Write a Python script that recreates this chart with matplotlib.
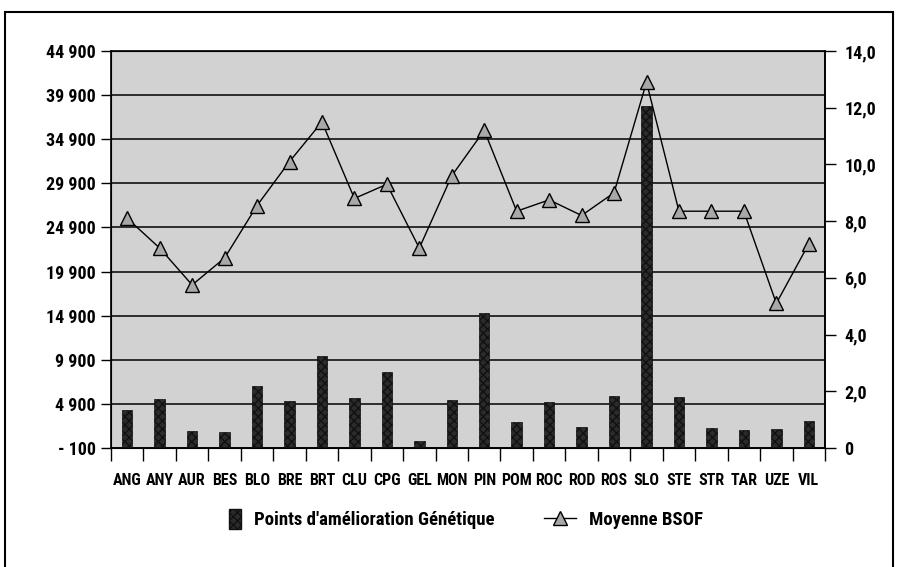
import matplotlib
matplotlib.use("Agg")
import matplotlib.pyplot as plt
from matplotlib.lines import Line2D
from matplotlib.patches import Patch, Rectangle
from matplotlib.legend_handler import HandlerPatch

plt.rcParams['font.family'] = ['Roboto Condensed', 'Liberation Sans Narrow', 'DejaVu Sans']
plt.rcParams['font.weight'] = 'bold'
plt.rcParams['font.stretch'] = 'condensed'

categories = ["ANG", "ANY", "AUR", "BES", "BLO", "BRE", "BRT", "CLU", "CPG", "GEL", "MON",
              "PIN", "POM", "ROC", "ROD", "ROS", "SLO", "STE", "STR", "TAR", "UZE", "VIL"]
points_genetique = [4200, 5450, 1800, 1750, 6900, 5200, 10300, 5600, 8500, 700, 5300,
                    15200, 2900, 5150, 2300, 5750, 38700, 5700, 2200, 1900, 2000, 3000]
moyenne_bsof = [8.1, 7.05, 5.75, 6.7, 8.55, 10.1, 11.5, 8.8, 9.3, 7.05, 9.6,
                11.2, 8.35, 8.75, 8.2, 9.0, 12.9, 8.35, 8.35, 8.35, 5.1, 7.2]
left_ticks = [-100, 4900, 9900, 14900, 19900, 24900, 29900, 34900, 39900, 44900]
left_labels = ["- 100", "4 900", "9 900", "14 900", "19 900", "24 900", "29 900",
               "34 900", "39 900", "44 900"]
right_ticks = [0, 2, 4, 6, 8, 10, 12, 14]
right_labels = ["0", "2,0", "4,0", "6,0", "8,0", "10,0", "12,0", "14,0"]
legend_labels = ["Points d'amélioration Génétique", "Moyenne BSOF"]

fig = plt.figure(figsize=(9.03, 5.67), dpi=100)
fig.patch.set_facecolor('white')
# outer frame
fig.add_artist(Rectangle((5/903, -0.02), 888/903, 1.02 - 12/567, transform=fig.transFigure,
                         fill=False, edgecolor='black', lw=1.5))

ax = fig.add_axes([111/903, 1 - 448/567, 714/903, 397/567])
ax.set_facecolor('#d2d2d2')
x = list(range(len(categories)))
ax.bar(x, points_genetique, width=0.32, color='#2b2b2b', edgecolor='#111111',
       hatch='xxxx', lw=0.5, zorder=3)
ax.set_ylim(-100, 44900)
ax.set_xlim(-0.5, len(categories) - 0.5)
ax.set_yticks(left_ticks)
ax.set_yticklabels(left_labels, fontsize=13, fontweight='bold')
for t in left_ticks:
    ax.axhline(t, color='black', lw=1.1, zorder=1)

ax.set_xticks([i - 0.5 for i in range(len(categories) + 1)])
ax.set_xticklabels([])
ax.set_xticks(x, minor=True)
ax.set_xticklabels(categories, minor=True, fontsize=11.5, fontweight='bold')
ax.tick_params(axis='x', which='major', length=9, width=1, direction='out')
ax.tick_params(axis='x', which='minor', length=0, pad=18)
ax.tick_params(axis='y', length=7, width=1, direction='out', pad=4)
for s in ax.spines.values():
    s.set_linewidth(1.2)

ax2 = ax.twinx()
ax2.plot(x, moyenne_bsof, color='black', lw=1.0, marker='^', markersize=10,
         markerfacecolor='#a8a8a8', markeredgecolor='black', markeredgewidth=1.0, zorder=5)
ax2.set_ylim(0, 14)
ax2.set_yticks(right_ticks)
ax2.set_yticklabels(right_labels, fontsize=13, fontweight='bold')
ax2.tick_params(axis='y', length=8, width=1, direction='out', pad=6)
ax2.spines['right'].set_linewidth(1.2)


def narrow_patch(legend, orig_handle, xdescent, ydescent, width, height, fontsize):
    w = height * 0.75
    return Rectangle((width - w - xdescent, -ydescent - height * 0.1), w, height * 1.2)


bar_handle = Patch(facecolor='#2b2b2b', edgecolor='#111111', hatch='xxxx')
line_handle = Line2D([0], [0], color='black', lw=1.0, marker='^', markersize=10,
                     markerfacecolor='#a8a8a8', markeredgecolor='black')
fig.legend([bar_handle, line_handle], legend_labels, loc='center',
           bbox_to_anchor=(0.505, 1 - 520/567),
           ncol=2, frameon=False, columnspacing=2.6, handlelength=1.7,
           handleheight=1.0, handletextpad=0.7, prop={'weight': 'bold', 'size': 13.5},
           handler_map={Patch: HandlerPatch(patch_func=narrow_patch)})

fig.savefig('out.png', dpi=100, facecolor='white')
